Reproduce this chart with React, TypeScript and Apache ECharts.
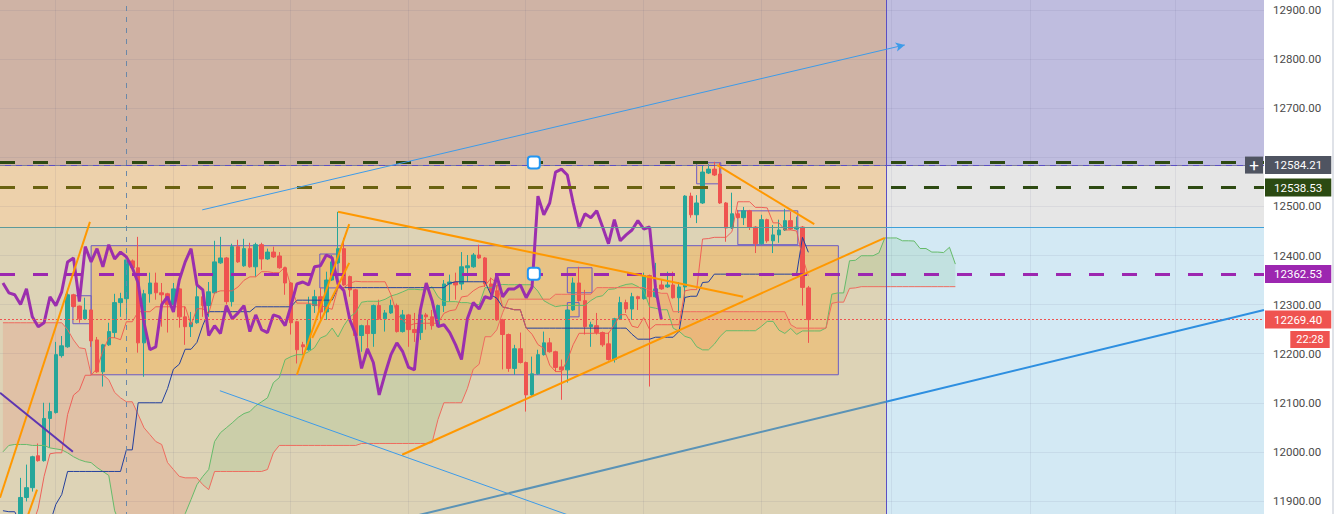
import React, { useEffect, useRef } from "react";
import * as echarts from "echarts";

// ---------- DATA ----------
// bar index of the first visible candle
const FIRST_BAR = 3;
// [open, close, low, high]
const candles: number[][] = [
  [11860, 11907, 11820, 11947], [11907, 11927, 11899, 11974], [11927, 11990, 11919, 11992], [11992, 11982, 11980, 12017],
  [11982, 12068, 11980, 12100], [12068, 12082, 12008, 12100], [12080, 12198, 12078, 12224], [12196, 12216, 12192, 12236],
  [12214, 12320, 12212, 12332], [12320, 12296, 12294, 12322], [12297, 12271, 12263, 12298], [12271, 12289, 12269, 12314],
  [12289, 12226, 12214, 12290], [12228, 12163, 12161, 12234], [12163, 12218, 12133, 12220], [12218, 12245, 12216, 12263],
  [12243, 12304, 12232, 12322], [12304, 12312, 12275, 12324], [12312, 12391, 12269, 12397], [12389, 12375, 12373, 12392],
  [12375, 12222, 12202, 12438], [12222, 12322, 12153, 12330], [12322, 12344, 12304, 12365], [12344, 12324, 12310, 12365],
  [12324, 12320, 12255, 12344], [12322, 12300, 12243, 12324], [12300, 12332, 12298, 12344], [12332, 12275, 12253, 12334],
  [12275, 12255, 12218, 12296], [12255, 12263, 12234, 12285], [12263, 12316, 12261, 12340], [12316, 12298, 12275, 12318],
  [12298, 12326, 12275, 12346], [12324, 12387, 12322, 12430], [12385, 12395, 12383, 12438], [12395, 12306, 12300, 12397],
  [12306, 12418, 12296, 12424], [12418, 12387, 12385, 12432], [12379, 12414, 12377, 12434], [12414, 12377, 12375, 12426],
  [12377, 12422, 12357, 12426], [12422, 12393, 12371, 12426], [12393, 12407, 12391, 12414], [12407, 12397, 12395, 12418],
  [12399, 12375, 12373, 12407], [12375, 12344, 12320, 12377], [12344, 12263, 12239, 12346], [12265, 12208, 12180, 12267],
  [12218, 12214, 12198, 12224], [12208, 12300, 12206, 12316], [12298, 12316, 12283, 12330], [12316, 12285, 12269, 12334],
  [12285, 12350, 12269, 12367], [12350, 12387, 12348, 12401], [12385, 12414, 12383, 12489], [12414, 12340, 12338, 12436],
  [12357, 12330, 12316, 12359], [12330, 12237, 12228, 12332], [12237, 12257, 12204, 12259], [12257, 12241, 12212, 12269],
  [12241, 12298, 12214, 12300], [12298, 12271, 12269, 12310], [12271, 12283, 12245, 12289], [12283, 12298, 12281, 12310],
  [12298, 12245, 12243, 12302], [12245, 12279, 12243, 12289], [12279, 12249, 12214, 12281], [12249, 12243, 12224, 12283],
  [12243, 12279, 12228, 12281], [12279, 12275, 12249, 12283], [12275, 12257, 12249, 12289], [12257, 12298, 12255, 12300],
  [12298, 12342, 12285, 12350], [12342, 12346, 12306, 12361], [12346, 12340, 12310, 12365], [12342, 12377, 12330, 12407],
  [12375, 12379, 12346, 12401], [12377, 12401, 12375, 12405], [12401, 12395, 12393, 12422], [12395, 12342, 12336, 12397],
  [12342, 12328, 12314, 12355], [12328, 12269, 12267, 12340], [12269, 12239, 12168, 12271], [12239, 12170, 12163, 12241],
  [12170, 12210, 12157, 12218], [12210, 12182, 12180, 12243], [12182, 12116, 12082, 12184], [12116, 12159, 12114, 12194],
  [12159, 12198, 12157, 12208], [12198, 12222, 12196, 12245], [12222, 12204, 12202, 12232], [12204, 12172, 12163, 12206],
  [12173, 12167, 12106, 12188], [12167, 12289, 12141, 12291], [12289, 12344, 12287, 12355], [12344, 12308, 12306, 12377],
  [12308, 12255, 12239, 12330], [12255, 12259, 12214, 12265], [12257, 12243, 12239, 12283], [12243, 12218, 12214, 12245],
  [12220, 12188, 12186, 12243], [12188, 12271, 12182, 12273], [12271, 12304, 12269, 12316], [12304, 12291, 12283, 12310],
  [12291, 12316, 12269, 12324], [12316, 12312, 12289, 12318], [12312, 12359, 12310, 12365], [12359, 12316, 12133, 12361],
  [12316, 12332, 12314, 12385], [12340, 12332, 12330, 12350], [12336, 12340, 12334, 12367], [12340, 12314, 12312, 12367],
  [12314, 12336, 12283, 12346], [12336, 12521, 12306, 12523], [12521, 12483, 12477, 12528], [12483, 12507, 12466, 12523],
  [12507, 12570, 12505, 12584], [12568, 12576, 12566, 12586], [12576, 12564, 12562, 12591], [12566, 12507, 12505, 12589],
  [12507, 12456, 12428, 12509], [12456, 12485, 12454, 12528], [12485, 12477, 12475, 12493], [12477, 12491, 12462, 12499],
  [12491, 12458, 12452, 12493], [12458, 12424, 12405, 12460], [12424, 12473, 12422, 12483], [12473, 12430, 12426, 12475],
  [12430, 12442, 12405, 12462], [12442, 12452, 12426, 12473], [12452, 12471, 12450, 12495], [12471, 12454, 12452, 12489],
  [12454, 12458, 12452, 12479], [12458, 12335, 12298, 12460], [12334, 12269.4, 12222, 12338],
];

const tenkanEarly = [11840, 11840, 11840, 11840, 11840, 11850, 11885, 11950, 11996, 11998, 11998];
const kijunEarly = [
  11880, 11878, 11878, 11855, 11850, 11850, 11850, 11850, 11855, 11893, 11913, 11960, 11960, 11960,
  11960, 11960, 11960, 11960, 11960, 11960, 11960, 12004, 12004, 12100, 12100, 12100, 12100, 12100,
];
const spanAEarly = [
  12000, 12013, 12015, 12015, 12015, 12013, 12013, 12013, 12008, 12006, 12004, 11998, 11990, 11984, 11980,
  11978, 11968, 11960, 11952, 11880, 11850, 11850, 11850, 11850, 11850, 11850, 11850, 11850, 11850, 11850,
  11850, 11874, 11903, 11933, 11950, 11964, 12021, 12039, 12049, 12059, 12070, 12078, 12082, 12094, 12102,
  12110, 12141, 12151, 12188, 12194, 12198, 12198, 12204,
];
const spanBEarly = [
  12263, 12263, 12263, 12263, 12263, 12263, 12263, 12263, 12263, 12263, 12263, 12249, 12228, 12212, 12210,
  12157, 12157, 12157, 12147, 12121, 12110, 12102, 12102, 12076, 12049, 12035, 12021, 12015, 11978, 11964,
  11950, 11947, 11947, 11947, 11933, 11923, 11960, 11960, 11960, 11960, 11960, 11960, 11960, 11960, 11960,
  11964, 11998, 12013, 12013, 12013, 12013, 12013, 12013, 12013, 12013, 12013, 12013, 12013, 12013, 12013,
  12013, 12017, 12017, 12017, 12017, 12017, 12017, 12017, 12017, 12017, 12017, 12017, 12017, 12019, 12066,
  12100, 12100, 12100, 12100,
];

const priceTicks = [11900, 12000, 12100, 12200, 12300, 12400, 12500, 12600, 12700, 12800, 12900];
const hiddenTickLabels = [12600];
const timeGrid = [8.9, 28.9, 48.9, 68.9, 88.9, 108.9, 128.9, 151.1, 174.7, 199.4];

// horizontal levels / zone limits
const crosshairPrice = 12584.21;
const greenTopLevel = 12589.6;
const greenLevel = 12538.53;
const purpleLevel = 12362.53;
const lastPrice = 12269.4;
const zoneMidPrice = 12458.3;
const zoneSplitBar = 150.2;
const crosshairBar = 21;
const countdown = "22:28";

// drawings: [bar1, price1, bar2, price2]
const orangeLines = [
  [-0.5, 11906.7, 14.8, 12468.5],
  [3.4, 11842, 5.8, 11923],
  [50.0, 12157, 58.9, 12464],
  [52.6, 12232, 58.9, 12385],
  [57.0, 12489, 125.9, 12316],
  [67.9, 11994, 150.0, 12436],
  [121.5, 12584, 138.0, 12464],
];
const blueArrowLine = [33.9, 12493, 153.4, 12829];
const blueThinLine = [36.9, 12124.5, 101.6, 11848];
const blueThickLeft = [64.1, 11852, 150.2, 12102];
const blueThickRight = [150.2, 12102, 214.5, 12289];
const purpleDiag = [-0.5, 12120.5, 11.9, 12000];
// boxes: [bar1, price1, bar2, price2]
const bigBox = [15.0, 12157, 142.1, 12420];
const smallBoxes = [
  [11.9, 12261, 15.0, 12318],
  [53.9, 12334, 57.0, 12403],
  [96.0, 12324, 100.2, 12375],
  [96.0, 12275, 98.0, 12304],
  [118.0, 12546, 122.1, 12589],
  [125.0, 12422, 135.2, 12491],
];
const handles = [
  [90.3, 12589.6],
  [90.3, 12362.6],
];
const plusButton = [212.8, 12584.21];

// ---------- derived indicator lines (Ichimoku from the candles) ----------
const NCAT = 215;
const X_MIN = -0.5;
const X_MAX = 214.5;
const Y_MIN = 11800;
const Y_MAX = 13000;
const SHIFT = 25;
const NB = FIRST_BAR + candles.length;

const barAt = (i: number) => (i >= FIRST_BAR && i < NB ? candles[i - FIRST_BAR] : null);
function midRange(i: number, len: number) {
  let h = -Infinity;
  let l = Infinity;
  for (let j = i - len + 1; j <= i; j++) {
    const b = barAt(j);
    if (!b) return NaN;
    h = Math.max(h, b[3]);
    l = Math.min(l, b[2]);
  }
  return (h + l) / 2;
}
const idx = (n: number) => Array.from({ length: n }, (_, i) => i);
const tenkan = idx(NB).map((i) => (i < tenkanEarly.length ? tenkanEarly[i] : midRange(i, 9)));
const kijun = idx(NB).map((i) => (i < kijunEarly.length ? kijunEarly[i] : midRange(i, 26)));
const spanA = idx(NB + SHIFT).map((k) =>
  k < spanAEarly.length ? spanAEarly[k] : (tenkan[k - SHIFT] + kijun[k - SHIFT]) / 2
);
const spanB = idx(NB + SHIFT).map((k) => (k < spanBEarly.length ? spanBEarly[k] : midRange(k - SHIFT, 52)));
const chikou = idx(NB - SHIFT).map((k) => [k, (barAt(k + SHIFT) as number[])[1]]);

type Run = { sign: number; a: number[][]; b: number[][] };
function cloudRuns(): Run[] {
  const runs: Run[] = [];
  let cur: Run | null = null;
  for (let k = 0; k < spanA.length; k++) {
    const d = spanA[k] - spanB[k];
    const s = d >= 0 ? 1 : -1;
    if (!cur) {
      cur = { sign: s, a: [[k, spanA[k]]], b: [[k, spanB[k]]] };
      continue;
    }
    if (s === cur.sign) {
      cur.a.push([k, spanA[k]]);
      cur.b.push([k, spanB[k]]);
    } else {
      const dp = spanA[k - 1] - spanB[k - 1];
      const t = dp / (dp - d);
      const xc = k - 1 + t;
      const yc = spanA[k - 1] + (spanA[k] - spanA[k - 1]) * t;
      cur.a.push([xc, yc]);
      cur.b.push([xc, yc]);
      runs.push(cur);
      cur = { sign: s, a: [[xc, yc], [k, spanA[k]]], b: [[xc, yc], [k, spanB[k]]] };
    }
  }
  if (cur) runs.push(cur);
  return runs;
}

// ---------- layout of the visible window ----------
const VIEW_W = 1334;
const VIEW_H = 514;
const PX_PER_PT = 0.491; // vertical scale
const TOP_CUT = (Y_MAX - 12900) * PX_PER_PT - 10; // part of the plot above the window
const CHART_H = (Y_MAX - Y_MIN) * PX_PER_PT;

// ---------- option ----------
const FONT = 'Roboto, "Liberation Sans", Arial, sans-serif';

function seg(l: number[], lineStyle: any, extra: any = {}) {
  return [
    { coord: [l[0], l[1]], lineStyle, ...extra },
    { coord: [l[2], l[3]] },
  ];
}
function tag(text: string, bg: string) {
  return {
    show: true,
    position: "end",
    distance: 1,
    formatter: text,
    color: "#ffffff",
    backgroundColor: bg,
    padding: [2, 9, 2, 9],
    fontSize: 11.5,
    lineHeight: 14,
    fontFamily: FONT,
  };
}
function area(b: number[], itemStyle: any) {
  return [{ coord: [b[0], b[1]], itemStyle }, { coord: [b[2], b[3]] }];
}

function buildOption() {
  const runs = cloudRuns();
  const DASH = [15, 18];
  const zones = [
    area([X_MIN, crosshairPrice, zoneSplitBar, Y_MAX], { color: "#cfb3a5" }),
    area([X_MIN, zoneMidPrice, zoneSplitBar, crosshairPrice], { color: "#edd1ab" }),
    area([X_MIN, Y_MIN, zoneSplitBar, zoneMidPrice], { color: "#ddd3b6" }),
    area([zoneSplitBar, crosshairPrice, X_MAX, Y_MAX], { color: "#bfbddf" }),
    area([zoneSplitBar, zoneMidPrice, X_MAX, crosshairPrice], { color: "#e6e6e6" }),
    area([zoneSplitBar, Y_MIN, X_MAX, zoneMidPrice], { color: "#d3e9f4" }),
  ];
  const boxStyle = { color: "rgba(255,165,40,0.34)", borderColor: "#6b5bc4", borderWidth: 1 };
  const smallBoxStyle = { color: "rgba(255,165,40,0.16)", borderColor: "#6b5bc4", borderWidth: 1 };

  const lineData: any[] = [
    // zone borders
    { yAxis: crosshairPrice, lineStyle: { color: "#5b4fc4", width: 1, type: "solid" } },
    { xAxis: zoneSplitBar, lineStyle: { color: "#5b4fc4", width: 1, type: "solid" } },
    seg([X_MIN, zoneMidPrice, zoneSplitBar, zoneMidPrice], { color: "#5e9a9a", width: 1, type: "solid" }),
    seg([zoneSplitBar, zoneMidPrice, X_MAX, zoneMidPrice], { color: "#3fa0d8", width: 1, type: "solid" }),
    // horizontal levels
    { yAxis: greenTopLevel, lineStyle: { color: "#2d4a12", width: 3, type: DASH } },
    seg([X_MIN, greenLevel, zoneSplitBar, greenLevel], { color: "#6a6210", width: 3, type: DASH }),
    seg([zoneSplitBar, greenLevel, X_MAX, greenLevel], { color: "#2d4a12", width: 3, type: DASH, dashOffset: 28 }, {
      label: tag(greenLevel.toFixed(2), "#2b4a12"),
    }),
    { yAxis: purpleLevel, lineStyle: { color: "#9c27b0", width: 3, type: DASH }, label: tag(purpleLevel.toFixed(2), "#9c27b0") },
    { yAxis: lastPrice, lineStyle: { color: "#ef5350", width: 1, type: [2, 2] }, label: tag(lastPrice.toFixed(2), "#ef5350") },
    // crosshair
    { yAxis: crosshairPrice, lineStyle: { color: "#7d7d9c", width: 1, type: [5, 6] }, label: tag(crosshairPrice.toFixed(2), "#4f5461") },
    { xAxis: crosshairBar, lineStyle: { color: "#6a88a8", width: 1, type: [5, 6] } },
    // trend lines
    ...orangeLines.map((l) => seg(l, { color: "#ff9800", width: 2, type: "solid" })),
    [
      { coord: [blueArrowLine[0], blueArrowLine[1]], symbol: "none", lineStyle: { color: "#3d9be9", width: 1, type: "solid" } },
      { coord: [blueArrowLine[2], blueArrowLine[3]], symbol: "arrow", symbolSize: [7, 9] },
    ],
    seg(blueThinLine, { color: "#3d9be9", width: 1, type: "solid" }),
    seg(blueThickLeft, { color: "#5b93b6", width: 2, type: "solid" }),
    seg(blueThickRight, { color: "#2e8fe0", width: 2, type: "solid" }),
    seg(purpleDiag, { color: "#5e35b1", width: 2, type: "solid" }),
  ];

  return {
    animation: false,
    backgroundColor: "#ffffff",
    textStyle: { fontFamily: FONT },
    grid: { left: 0, right: 70, top: 0, bottom: 0, containLabel: false },
    xAxis: [
      { type: "category", data: idx(NCAT).map(String), show: false, boundaryGap: true },
      { type: "value", min: X_MIN, max: X_MAX, show: false },
    ],
    yAxis: {
      type: "value",
      position: "right",
      min: Y_MIN,
      max: Y_MAX,
      interval: 100,
      axisLine: { show: true, lineStyle: { color: "#9598a1", width: 1 } },
      axisTick: { show: true, length: 5, lineStyle: { color: "#787b86" } },
      splitLine: { show: false },
      axisLabel: {
        color: "#4a4a4a",
        fontSize: 11.5,
        fontFamily: FONT,
        margin: 9,
        showMinLabel: false,
        showMaxLabel: false,
        formatter: (v: number) =>
          priceTicks.indexOf(v) >= 0 && hiddenTickLabels.indexOf(v) < 0 ? v.toFixed(2) : "",
      },
    },
    series: [
      {
        name: "zones",
        type: "line",
        xAxisIndex: 1,
        data: [],
        silent: true,
        markArea: { silent: true, z: 0.5, label: { show: false }, data: zones },
      },
      {
        name: "grid",
        type: "line",
        xAxisIndex: 1,
        data: [],
        silent: true,
        markLine: {
          silent: true,
          z: 0.8,
          symbol: ["none", "none"],
          label: { show: false },
          lineStyle: { color: "rgba(60,60,110,0.08)", width: 1, type: "solid" },
          data: [...priceTicks.map((v) => ({ yAxis: v })), ...timeGrid.map((x) => ({ xAxis: x }))],
        },
      },
      {
        name: "cloud",
        type: "custom",
        xAxisIndex: 1,
        z: 1,
        silent: true,
        clip: true,
        data: runs.map((_, i) => [i, 12000]),
        encode: { x: 0, y: 1 },
        renderItem: (params: any, api: any) => {
          const run = runs[params.dataIndex];
          const pts = run.a.concat(run.b.slice().reverse()).map((p) => api.coord(p));
          return {
            type: "polygon",
            shape: { points: pts },
            style: { fill: run.sign > 0 ? "rgba(76,175,80,0.12)" : "rgba(244,67,54,0.12)" },
            silent: true,
          };
        },
      },
      {
        name: "boxes",
        type: "line",
        xAxisIndex: 1,
        data: [],
        silent: true,
        markArea: {
          silent: true,
          z: 1.2,
          label: { show: false },
          data: [area(bigBox, boxStyle), ...smallBoxes.map((b) => area(b, smallBoxStyle))],
        },
      },
      {
        name: "price",
        type: "candlestick",
        xAxisIndex: 0,
        z: 2,
        silent: true,
        barWidth: 4,
        data: candles.map((c, j) => [j + FIRST_BAR, c[0], c[1], c[2], c[3]]),
        encode: { x: 0, y: [1, 2, 3, 4] },
        itemStyle: {
          color: "#26a69a",
          color0: "#ef5350",
          borderColor: "#26a69a",
          borderColor0: "#ef5350",
          borderWidth: 1,
        },
      },
      {
        name: "spanA",
        type: "line",
        xAxisIndex: 1,
        z: 3,
        silent: true,
        showSymbol: false,
        data: spanA.map((v, k) => [k, v]),
        lineStyle: { color: "#66bb6a", width: 1 },
      },
      {
        name: "spanB",
        type: "line",
        xAxisIndex: 1,
        z: 3,
        silent: true,
        showSymbol: false,
        data: spanB.map((v, k) => [k, v]),
        lineStyle: { color: "#ef6c5f", width: 1 },
      },
      {
        name: "kijun",
        type: "line",
        xAxisIndex: 1,
        z: 3,
        silent: true,
        showSymbol: false,
        data: kijun.map((v, i) => [i, v]),
        lineStyle: { color: "#23409e", width: 1 },
      },
      {
        name: "tenkan",
        type: "line",
        xAxisIndex: 1,
        z: 3,
        silent: true,
        showSymbol: false,
        data: tenkan.map((v, i) => [i, v]),
        lineStyle: { color: "#f05550", width: 1, opacity: 0.9 },
      },
      {
        name: "chikou",
        type: "line",
        xAxisIndex: 1,
        z: 3.2,
        silent: true,
        showSymbol: false,
        data: chikou,
        lineStyle: { color: "#9b2fae", width: 3 },
      },
      {
        name: "drawings",
        type: "line",
        xAxisIndex: 1,
        data: [],
        silent: true,
        markLine: {
          silent: true,
          z: 5,
          symbol: ["none", "none"],
          label: { show: false },
          emphasis: { disabled: true },
          data: lineData,
        },
        markPoint: {
          silent: true,
          z: 7,
          data: [
            ...handles.map((h) => ({
              coord: h,
              symbol: "roundRect",
              symbolSize: 12,
              itemStyle: { color: "#ffffff", borderColor: "#2196f3", borderWidth: 2 },
              label: { show: false },
            })),
            {
              coord: plusButton,
              symbol: "rect",
              symbolSize: [18, 17],
              itemStyle: { color: "#4f5461" },
              label: { show: true, position: "inside", formatter: "+", color: "#ffffff", fontSize: 17, fontFamily: FONT },
            },
            {
              coord: [X_MAX, lastPrice],
              symbol: "rect",
              symbolSize: 0,
              label: {
                show: true,
                position: "inside",
                offset: [46, 20],
                formatter: countdown,
                color: "#ffffff",
                backgroundColor: "#ef5350",
                padding: [2, 6, 2, 6],
                fontSize: 11,
                lineHeight: 13,
                fontFamily: FONT,
              },
            },
          ],
        },
      },
    ],
  };
}

export default function App() {
  const ref = useRef<HTMLDivElement>(null);
  useEffect(() => {
    document.body.style.margin = "0";
    const chart = echarts.init(ref.current as HTMLDivElement, undefined, { renderer: "svg" });
    chart.setOption(buildOption() as any);
    return () => chart.dispose();
  }, []);
  return (
    <div style={{ width: VIEW_W, height: VIEW_H, overflow: "hidden", position: "relative", background: "#ffffff" }}>
      <div ref={ref} style={{ width: VIEW_W, height: CHART_H, marginTop: -TOP_CUT }} />
      <div style={{ position: "absolute", right: 0, top: 0, width: 2, height: VIEW_H, background: "#dfe2e8" }} />
    </div>
  );
}
